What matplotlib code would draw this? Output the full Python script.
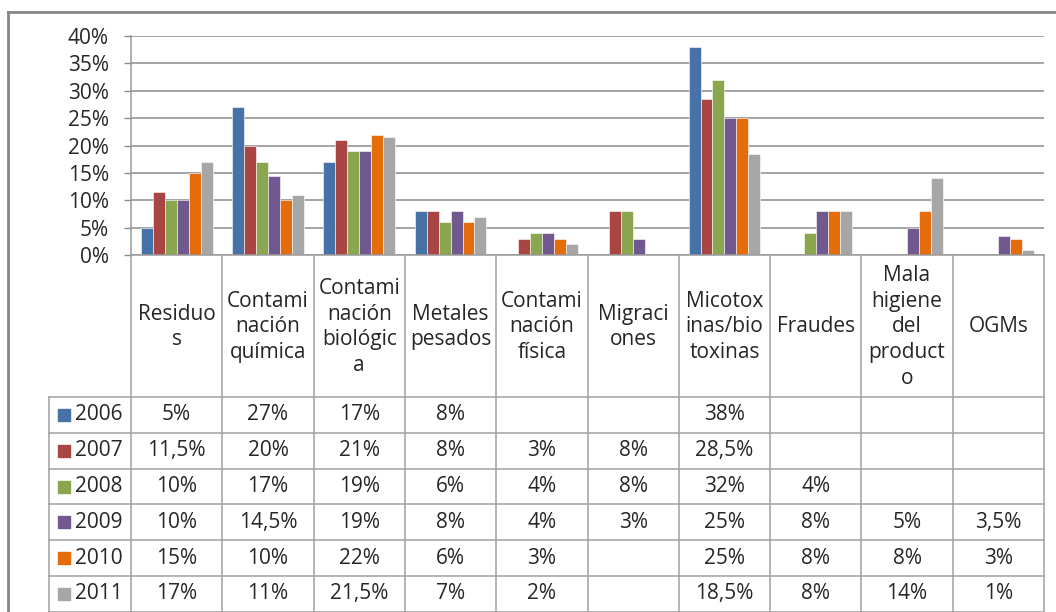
import numpy as np
import matplotlib
matplotlib.use("Agg")
import matplotlib.pyplot as plt
from matplotlib.patches import Rectangle

plt.rcParams["font.family"] = ["Open Sans", "DejaVu Sans"]

categorias = ["Residuo\ns", "Contami\nnación\nquímica", "Contami\nnación\nbiológic\na",
              "Metales\npesados", "Contami\nnación\nfísica", "Migraci\nones",
              "Micotox\ninas/bio\ntoxinas", "Fraudes", "Mala\nhigiene\ndel\nproduct\no", "OGMs"]
anios = ["2006", "2007", "2008", "2009", "2010", "2011"]
nan = np.nan
v2006 = [5, 27, 17, 8, nan, nan, 38, nan, nan, nan]
v2007 = [11.5, 20, 21, 8, 3, 8, 28.5, nan, nan, nan]
v2008 = [10, 17, 19, 6, 4, 8, 32, 4, nan, nan]
v2009 = [10, 14.5, 19, 8, 4, 3, 25, 8, 5, 3.5]
v2010 = [15, 10, 22, 6, 3, nan, 25, 8, 8, 3]
v2011 = [17, 11, 21.5, 7, 2, nan, 18.5, 8, 14, 1]
series = [v2006, v2007, v2008, v2009, v2010, v2011]
colores = ["#4672A8", "#A94543", "#8AA64E", "#71588F", "#E46C0A", "#A6A6A6"]

W, H = 1056, 612
fig = plt.figure(figsize=(W / 100, H / 100), dpi=100)
fs = 15
tc = "#262626"

# plot area in pixels
x0, x1 = 131, 1044
ytop, ybot = 36, 255
ax = fig.add_axes([x0 / W, 1 - ybot / H, (x1 - x0) / W, (ybot - ytop) / H])

n = len(categorias)
x = np.arange(n)
bw = 0.131
for j, (vals, c) in enumerate(zip(series, colores)):
    ax.bar(x + (j - 2.5) * bw, vals, width=bw, color=c, edgecolor="white",
           linewidth=0.4, zorder=3)

ax.set_xlim(-0.5, n - 0.5)
ax.set_ylim(0, 40)
ax.set_yticks(np.arange(0, 41, 5))
ax.set_yticklabels([f"{t}%" for t in range(0, 41, 5)])
ax.yaxis.grid(True, color="#8C8C8C", linewidth=1.1, zorder=0)
ax.set_xticks([])
ax.tick_params(axis="y", length=5, width=1, color="#8C8C8C", pad=11,
               labelsize=fs, labelcolor=tc)
for s in ["top", "right", "bottom"]:
    ax.spines[s].set_visible(False)
ax.spines["left"].set_color("#9A9A9A")
ax.spines["left"].set_linewidth(1.1)

# data table below the chart
tx = fig.add_axes([0, 0, 1, 1], zorder=5)
tx.set_xlim(0, W)
tx.set_ylim(H, 0)
tx.axis("off")
tx.patch.set_alpha(0)

lc = "#A0A0A0"
colw = (x1 - x0) / n
xs = [x0 + i * colw for i in range(n + 1)]
yh = 397
rh = 35.8
xl = 49

tx.plot([x0, x1], [ybot, ybot], color="#9A9A9A", lw=1.1)
for xv in xs:
    tx.plot([xv, xv], [ybot, H], color=lc, lw=1.1)
tx.plot([xl, xl], [yh, H], color=lc, lw=1.1)
for r in range(len(anios) + 1):
    yy = yh + r * rh
    tx.plot([xl, x1], [yy, yy], color=lc, lw=1.1)

for i, cat in enumerate(categorias):
    tx.text(xs[i] + colw / 2, (ybot + yh) / 2 + 1, cat, ha="center", va="center",
            fontsize=fs, color=tc, linespacing=1.3)


def fmt(v):
    if np.isnan(v):
        return ""
    return f"{v:g}".replace(".", ",") + "%"


for r, (anio, vals, c) in enumerate(zip(anios, series, colores)):
    yc = yh + (r + 0.5) * rh
    tx.add_patch(Rectangle((58, yc - 6), 12, 12, color=c))
    tx.text(75, yc, anio, ha="left", va="center", fontsize=fs, color=tc)
    for i, v in enumerate(vals):
        tx.text(xs[i] + colw / 2, yc, fmt(v), ha="center", va="center",
                fontsize=fs, color=tc)

# outer chart border (left and top visible)
tx.plot([8, 8], [12, H], color="#868686", lw=2)
tx.plot([8, W], [12, 12], color="#868686", lw=2)

fig.savefig("out.png", dpi=100)
